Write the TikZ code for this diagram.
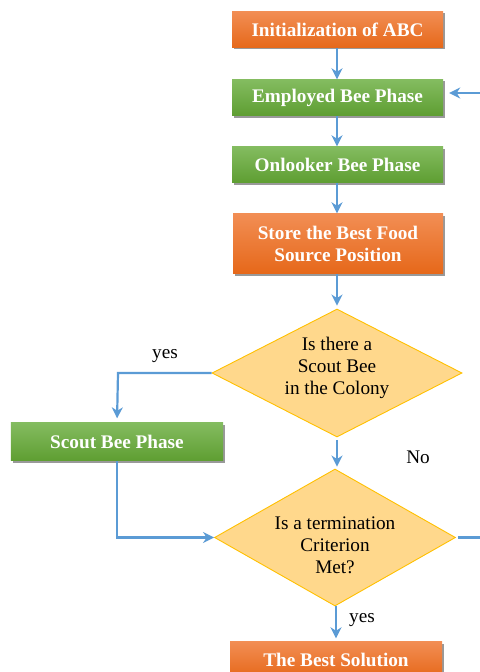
\documentclass[tikz,border=0pt]{standalone}
\usepackage{fontspec}
\setmainfont{Liberation Serif}
\usetikzlibrary{arrows.meta,shadows,shapes.geometric}
\definecolor{arr}{RGB}{91,155,213}
\definecolor{orT}{RGB}{242,142,84}
\definecolor{orB}{RGB}{230,104,26}
\definecolor{grT}{RGB}{132,188,96}
\definecolor{grB}{RGB}{94,158,50}
\definecolor{dfill}{RGB}{255,216,140}
\definecolor{dline}{RGB}{255,192,0}
\begin{document}
\begin{tikzpicture}[x=1bp,y=-1bp,
  box/.style={rectangle, draw=none, minimum width=211bp, minimum height=36bp, inner sep=0pt,
    text=white, align=center, font=\fontsize{19.3}{22}\selectfont\bfseries,
    drop shadow={shadow xshift=2bp, shadow yshift=-2bp, fill=black!40, opacity=1}},
  obox/.style={box, top color=orT, bottom color=orB},
  gbox/.style={box, top color=grT, bottom color=grB},
  dec/.style={diamond, draw=dline, line width=0.9bp, fill=dfill, inner sep=0pt},
  dtext/.style={align=center, font=\fontsize{19.3}{22}\selectfont, inner sep=0pt},
  lbl/.style={font=\fontsize{19.3}{22}\selectfont, inner sep=0pt},
  conn/.style={draw=arr, line width=2.2bp, -{Stealth[length=11bp,width=11bp,inset=3.5bp]}}
]
\useasboundingbox (0,0) rectangle (480,672);
\clip (0,0) rectangle (480,672);

\node[obox] (init) at (337.5,29.5) {Initialization of ABC};
\node[gbox] (emp) at (337.5,97.5) {Employed Bee Phase};
\node[gbox] (onl) at (337.5,164.5) {Onlooker Bee Phase};
\node[obox, minimum width=210bp, minimum height=60bp] (store) at (338,243.5) {Store the Best Food\\Source Position};
\node[dec, minimum width=250bp, minimum height=128bp] (d1) at (337,373) {};
\node[dtext] (d1t) at (337,367.5) {Is there a\\Scout Bee\\in the Colony};
\node[gbox, minimum width=212bp, minimum height=38bp] (scout) at (117,441.5) {Scout Bee Phase};
\node[dec, minimum width=241bp, minimum height=137bp] (d2) at (335,537.5) {};
\node[dtext] (d2t) at (335,545.5) {Is a termination\\Criterion\\Met?};
\node[obox, minimum width=212bp] (best) at (336,659.5) {The Best Solution};

\node[lbl] (yes1) at (165,356) {yes};
\node[lbl] (no1) at (418,457) {No};
\node[lbl] (yes2) at (362,620) {yes};

\coordinate (c1) at (118,373);
\coordinate (c2) at (117,537.5);
\coordinate (c3) at (500,537.5);
\coordinate (c4) at (500,93);

\draw[conn] (init.south -| 337,0) -- (emp.north -| 337,0);
\draw[conn] (emp.south -| 337,0) -- (onl.north -| 337,0);
\draw[conn] (onl.south -| 337,0) -- (store.north -| 337,0);
\draw[conn, shorten >=3bp] (store.south -| 337,0) -- (d1.north);
\draw[conn, shorten >=4bp] (d1.west) -- (c1) -- (scout.north);
\draw[conn, shorten <=3bp, shorten >=2bp] (d1.south) -- (d2.north -| d1.south);
\draw[conn] (scout.south) -- (c2) -- (d2.west);
\draw[conn, shorten <=2bp, shorten >=6bp] (d2.east) -- (c3) -- (c4) -- (emp.east |- c4);
\draw[conn, shorten >=3bp] (d2.south -| 336,0) -- (best.north -| 336,0);
\end{tikzpicture}
\end{document}
